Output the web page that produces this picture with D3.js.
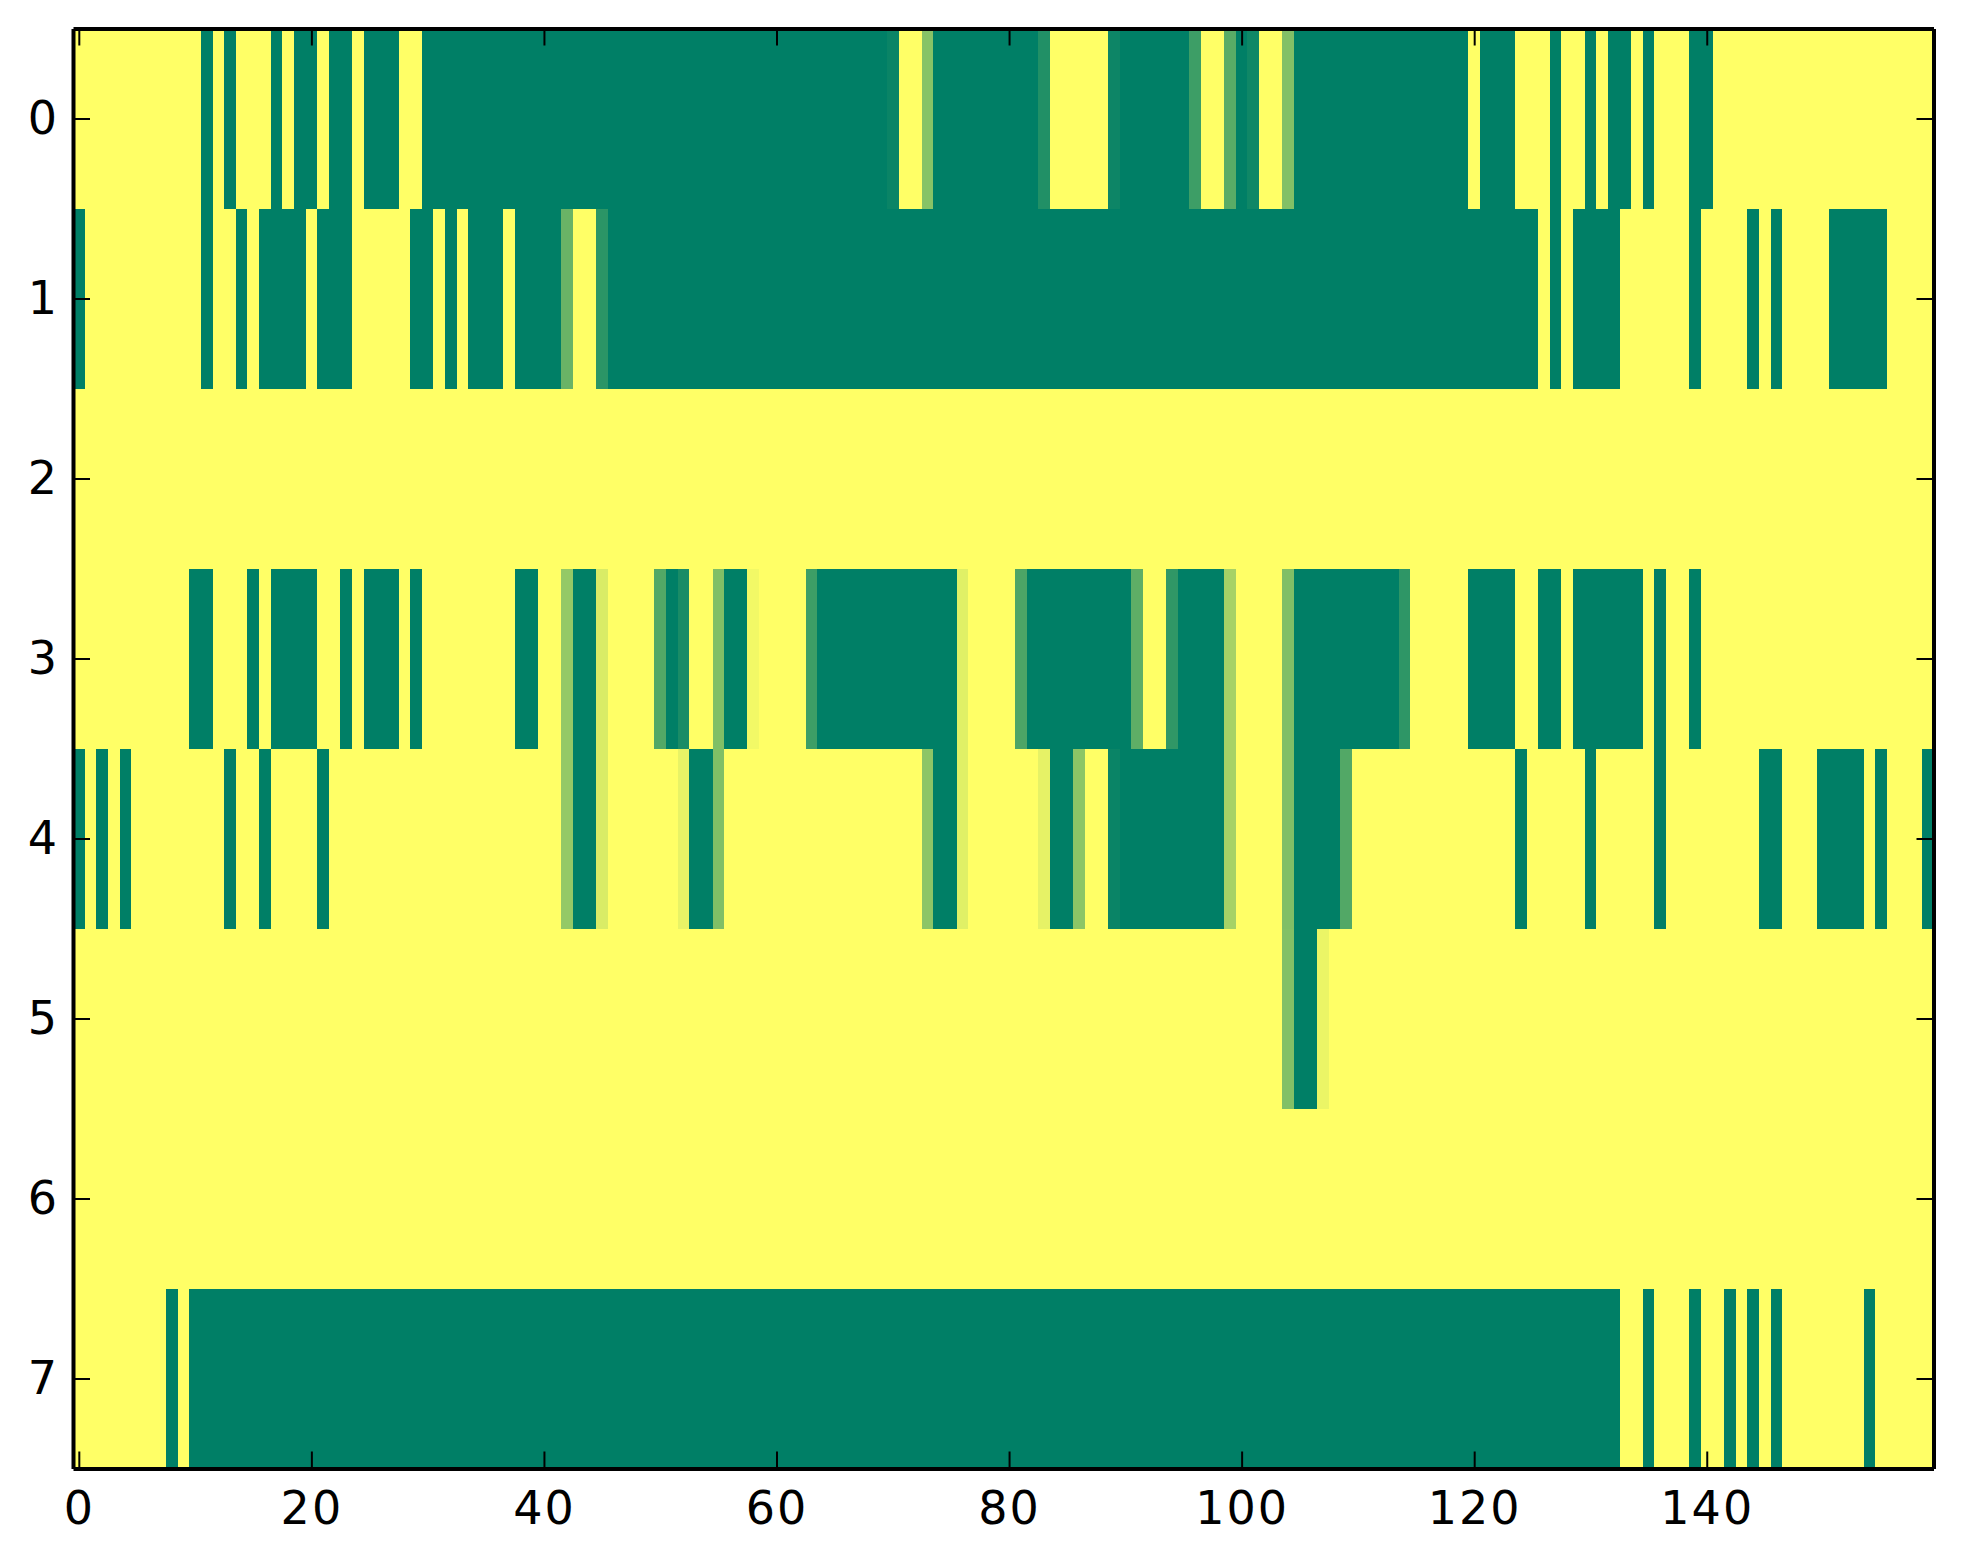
<!DOCTYPE html>
<html lang="en">
<head>
  <meta charset="UTF-8" />
  <title>Heatmap</title>
  <style>
  body {
    margin: 0;
    background: #fff;
  }
  svg {
    display: block;
  }
  .cell {
    shape-rendering: crispEdges;
  }
  .tick text {
    font-family: 'DejaVu Sans', sans-serif;
    font-size: 46px;
    fill: #000;
  }
  .x-axis .tick text {
    letter-spacing: 2px;
  }
  .tick line {
    stroke: #000;
    stroke-width: 2px;
  }
  .domain {
    stroke: #000;
    stroke-width: 4px;
    fill: none;
  }
  </style>
</head>
<body>
<div id="chart"></div>
<script src="https://cdn.jsdelivr.net/npm/d3@7"></script>
<script>
  const xTicks = [0, 20, 40, 60, 80, 100, 120, 140];
  const yTicks = [0, 1, 2, 3, 4, 5, 6, 7];
  const nCols = 160;

  // each run is [first column, last column, value], anything not listed is 0
  const row0 = [[11,11,1],[13,13,1],[17,17,1],[19,20,1],[22,23,1],[25,27,1],[30,69,1],[70,70,0.96],[73,73,0.47],
    [74,82,1],[83,83,0.87],[89,89,0.95],[90,95,1],[96,96,0.76],[99,99,0.65],[100,100,1],[101,101,0.94],[104,104,0.49],
    [105,119,1],[121,123,1],[127,127,1],[130,130,1],[132,133,1],[135,135,1],[139,140,1]];
  const row1 = [[0,0,1],[11,11,1],[14,14,1],[16,19,1],[21,23,1],[29,30,1],[32,32,1],[34,36,1],[38,41,1],[42,42,0.59],
    [45,45,0.83],[46,125,1],[127,127,1],[129,132,1],[139,139,1],[144,144,1],[146,146,1],[151,155,1]];
  const row2 = [];
  const row3 = [[10,11,1],[15,15,1],[17,20,1],[23,23,1],[25,27,1],[29,29,1],[38,39,1],[42,42,0.42],[43,44,1],[45,45,0.15],
    [50,50,0.68],[51,51,1],[52,52,0.9],[55,55,0.5],[56,57,1],[58,58,0.05],[63,63,0.76],[64,75,1],[76,76,0.12],
    [81,81,0.7],[82,90,1],[91,91,0.63],[94,94,0.81],[95,98,1],[99,99,0.35],[104,104,0.5],[105,113,1],[114,114,0.82],
    [120,123,1],[126,127,1],[129,134,1],[136,136,1],[139,139,1]];
  const row4 = [[0,0,1],[2,2,1],[4,4,1],[13,13,1],[16,16,1],[21,21,1],[42,42,0.42],[43,44,1],[45,45,0.15],[52,52,0.09],
    [53,54,1],[55,55,0.5],[73,73,0.45],[74,75,1],[76,76,0.12],[83,83,0.1],[84,85,1],[86,86,0.45],[89,89,0.96],[90,98,1],
    [99,99,0.35],[104,104,0.5],[105,108,1],[109,109,0.68],[124,124,1],[130,130,1],[136,136,1],[145,146,1],[150,153,1],
    [155,155,1],[159,159,1]];
  const row5 = [[104,104,0.49],[105,106,1],[107,107,0.08]];
  const row6 = [];
  const row7 = [[8,8,1],[10,132,1],[135,135,1],[139,139,1],[142,142,1],[144,144,1],[146,146,1],[154,154,1]];
  const rows = [row0, row1, row2, row3, row4, row5, row6, row7];

  const width = 1963, height = 1564;
  const plotLeft = 73, plotRight = 1933.5, plotTop = 28.5, plotBottom = 1468.5;

  const x = d3.scaleLinear().domain([-0.5, nCols - 0.5]).range([plotLeft, plotRight]);
  const y = d3.scaleLinear().domain([-0.5, rows.length - 0.5]).range([plotTop, plotBottom]);
  // same ramp as matplotlib's summer_r
  const color = d3.scaleLinear().domain([0, 1]).range(["#ffff66", "#007f66"]);

  const cells = [];
  rows.forEach((runs, r) => {
    const values = new Array(nCols).fill(0);
    runs.forEach(([a, b, v]) => {
      for (let c = a; c <= b; c++) values[c] = v;
    });
    values.forEach((v, c) => cells.push({ r, c, v }));
  });

  const svg = d3.select("#chart").append("svg")
    .attr("width", width)
    .attr("height", height);

  svg.append("g").selectAll("rect")
    .data(cells)
    .join("rect")
    .attr("class", "cell")
    .attr("x", d => x(d.c - 0.5))
    .attr("y", d => y(d.r - 0.5))
    .attr("width", d => x(d.c + 0.5) - x(d.c - 0.5))
    .attr("height", d => y(d.r + 0.5) - y(d.r - 0.5))
    .attr("fill", d => color(d.v));

  const tickLen = 17;

  // ticks point inwards on all four sides, labels only left and bottom
  svg.append("g")
    .attr("class", "x-axis")
    .attr("transform", `translate(0,${plotBottom})`)
    .call(d3.axisBottom(x).tickValues(xTicks).tickSizeInner(-tickLen).tickSizeOuter(0).tickPadding(23).tickFormat(d3.format("d")));
  svg.append("g")
    .attr("transform", `translate(0,${plotTop})`)
    .call(d3.axisTop(x).tickValues(xTicks).tickSizeInner(-tickLen).tickSizeOuter(0).tickFormat(""));
  svg.append("g")
    .attr("transform", `translate(${plotLeft},0)`)
    .call(d3.axisLeft(y).tickValues(yTicks).tickSizeInner(-tickLen).tickSizeOuter(0).tickPadding(16).tickFormat(d3.format("d")));
  svg.append("g")
    .attr("transform", `translate(${plotRight},0)`)
    .call(d3.axisRight(y).tickValues(yTicks).tickSizeInner(-tickLen).tickSizeOuter(0).tickFormat(""));
</script>
</body>
</html>
